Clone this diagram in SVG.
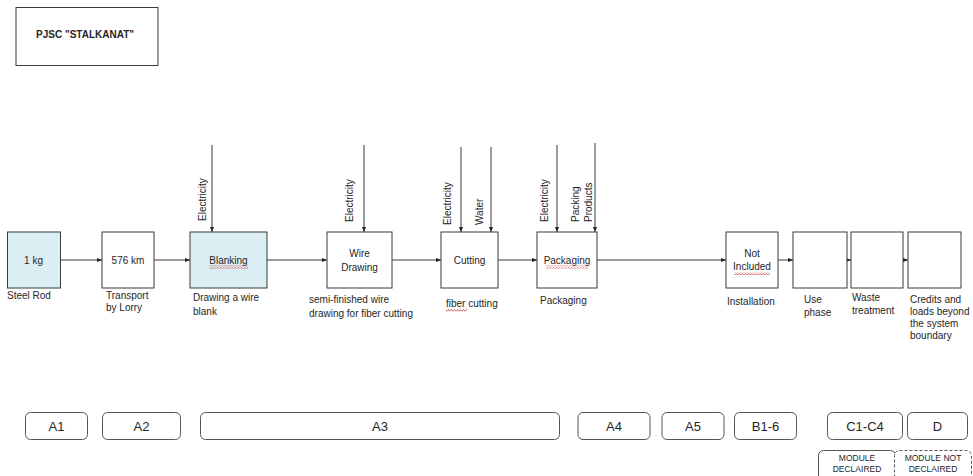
<svg xmlns="http://www.w3.org/2000/svg" width="973" height="476" viewBox="0 0 973 476">
<style>
text{font-family:"Liberation Sans",Arial,sans-serif;fill:#262626}
.t{font-size:10px}
.c{text-anchor:middle}
.b{fill:#fff;stroke:#3a3a3a;stroke-width:1}
.blue{fill:#dbeef3}
.m{fill:#fff;stroke:#555;stroke-width:1}
.lbl{font-size:13px;text-anchor:middle}
.sm{font-size:8.5px;text-anchor:middle}
.con{stroke:#3a3a3a;stroke-width:1;fill:none;marker-end:url(#ah)}
.sq{fill:url(#squig)}
</style>
<defs>
<marker id="ah" viewBox="0 0 10 8" refX="10" refY="4" markerWidth="5" markerHeight="4" markerUnits="userSpaceOnUse" orient="auto">
<path d="M0,0 L10,4 L0,8 z" fill="#222"/>
</marker>
<pattern id="squig" width="3" height="3" patternUnits="userSpaceOnUse">
<path d="M0,2.5 L1.5,0.5 L3,2.5" stroke="#d02020" stroke-width="0.7" fill="none"/>
</pattern>
</defs>
<rect width="973" height="476" fill="#fff"/>

<g id="title">
<rect class="b" x="16" y="7.5" width="142" height="58"/>
<text x="36" y="37.5" style="font-size:10px;font-weight:bold">PJSC "STALKANAT"</text>
</g>

<g id="connectors">
<line class="con" x1="60" y1="260" x2="102" y2="260"/>
<line class="con" x1="154" y1="260" x2="190" y2="260"/>
<line class="con" x1="267" y1="260" x2="327" y2="260"/>
<line class="con" x1="392" y1="260" x2="441" y2="260"/>
<line class="con" x1="498" y1="260" x2="537" y2="260"/>
<line class="con" x1="597" y1="260" x2="726" y2="260"/>
<line class="con" x1="778" y1="260" x2="793" y2="260"/>
<line class="con" x1="847" y1="260" x2="851" y2="260"/>
<line class="con" x1="903" y1="260" x2="908" y2="260"/>
<line class="con" x1="212" y1="145" x2="212" y2="232"/>
<line class="con" x1="364" y1="145" x2="364" y2="232"/>
<line class="con" x1="461" y1="147" x2="461" y2="232"/>
<line class="con" x1="491" y1="147" x2="491" y2="232"/>
<line class="con" x1="557" y1="145" x2="557" y2="232"/>
<line class="con" x1="595" y1="143" x2="595" y2="232"/>
<text class="t" transform="translate(206,221) rotate(-90)">Electricity</text>
<text class="t" transform="translate(352.5,222) rotate(-90)">Electricity</text>
<text class="t" transform="translate(450.5,225) rotate(-90)">Electricity</text>
<text class="t" transform="translate(483,225) rotate(-90)">Water</text>
<text class="t" transform="translate(547.5,222) rotate(-90)">Electricity</text>
<text class="t" transform="translate(578.5,222) rotate(-90)">Packing</text>
<text class="t" transform="translate(592,222) rotate(-90)">Products</text>
</g>

<g id="steel-rod">
<rect class="b blue" x="7.5" y="232" width="53" height="56"/>
<text class="t c" x="33.5" y="263.5">1 kg</text>
<text class="t" x="7" y="298.5">Steel Rod</text>
</g>

<g id="transport">
<rect class="b" x="102" y="232" width="52" height="56"/>
<text class="t c" x="128" y="263.5">576 km</text>
<text class="t" x="106" y="298.5">Transport</text>
<text class="t" x="106" y="311">by Lorry</text>
</g>

<g id="blanking">
<rect class="b blue" x="190" y="232" width="77" height="56"/>
<text class="t c" x="228.5" y="263.5">Blanking</text>
<rect class="sq" x="209" y="265.5" width="39" height="3"/>
<text class="t" x="193" y="300.5">Drawing a wire</text>
<text class="t" x="193" y="314.5">blank</text>
</g>

<g id="wire-drawing">
<rect class="b" x="327" y="232" width="65" height="56"/>
<text class="t c" x="359.5" y="256.5">Wire</text>
<text class="t c" x="359.5" y="270.5">Drawing</text>
<text class="t" x="309" y="302.5">semi-finished wire</text>
<text class="t" x="309" y="316.5">drawing for fiber cutting</text>
</g>

<g id="cutting">
<rect class="b" x="441" y="232" width="57" height="56"/>
<text class="t c" x="469.5" y="263.5">Cutting</text>
<text class="t" x="446" y="306.5">fiber cutting</text>
<rect class="sq" x="446" y="309" width="21" height="3"/>
</g>

<g id="packaging">
<rect class="b" x="537" y="232" width="60" height="56"/>
<text class="t c" x="567" y="263.5">Packaging</text>
<rect class="sq" x="546" y="265.5" width="42" height="3"/>
<text class="t" x="540" y="303.5">Packaging</text>
</g>

<g id="installation">
<rect class="b" x="726" y="232" width="52" height="56"/>
<text class="t c" x="752" y="256.5">Not</text>
<text class="t c" x="752" y="270">Included</text>
<rect class="sq" x="734" y="272" width="36" height="3"/>
<text class="t" x="727" y="304.5">Installation</text>
</g>

<g id="use-phase">
<rect class="b" x="793" y="232" width="54" height="56"/>
<text class="t" x="804" y="303">Use</text>
<text class="t" x="804" y="315.5">phase</text>
</g>

<g id="waste-treatment">
<rect class="b" x="851" y="232" width="52" height="56"/>
<text class="t" x="852" y="301">Waste</text>
<text class="t" x="852" y="313.5">treatment</text>
</g>

<g id="credits">
<rect class="b" x="908" y="232" width="53" height="56"/>
<text class="t" x="910" y="303">Credits and</text>
<text class="t" x="910" y="315">loads beyond</text>
<text class="t" x="910" y="327">the system</text>
<text class="t" x="910" y="339">boundary</text>
</g>

<g id="modules">
<g id="mod-a1"><rect class="m" x="25.5" y="412.5" width="62" height="27" rx="5"/><text class="lbl" x="56.5" y="430.5">A1</text></g>
<g id="mod-a2"><rect class="m" x="102.5" y="412.5" width="78" height="27" rx="5"/><text class="lbl" x="141.5" y="430.5">A2</text></g>
<g id="mod-a3"><rect class="m" x="200.5" y="412.5" width="359" height="27" rx="5"/><text class="lbl" x="380" y="430.5">A3</text></g>
<g id="mod-a4"><rect class="m" x="578" y="412.5" width="72" height="27" rx="5"/><text class="lbl" x="614" y="430.5">A4</text></g>
<g id="mod-a5"><rect class="m" x="662" y="412.5" width="62" height="27" rx="5"/><text class="lbl" x="693" y="430.5">A5</text></g>
<g id="mod-b"><rect class="m" x="734.5" y="412.5" width="62" height="27" rx="5"/><text class="lbl" x="765.5" y="430.5">B1-6</text></g>
<g id="mod-c"><rect class="m" x="827.5" y="412.5" width="75" height="27" rx="5"/><text class="lbl" x="865" y="430.5">C1-C4</text></g>
<g id="mod-d"><rect class="m" x="907.5" y="412.5" width="60" height="27" rx="5"/><text class="lbl" x="937.5" y="430.5">D</text></g>
</g>

<g id="legend">
<rect class="m" x="818.5" y="450.5" width="77" height="40" rx="5"/>
<rect x="894.5" y="450.5" width="77" height="40" rx="5" fill="#fff" stroke="#555" stroke-width="1" stroke-dasharray="3,2"/>
<text class="sm" x="857" y="461">MODULE</text>
<text class="sm" x="857" y="472">DECLAIRED</text>
<text class="sm" x="933" y="461">MODULE NOT</text>
<text class="sm" x="933" y="472">DECLAIRED</text>
</g>
</svg>
